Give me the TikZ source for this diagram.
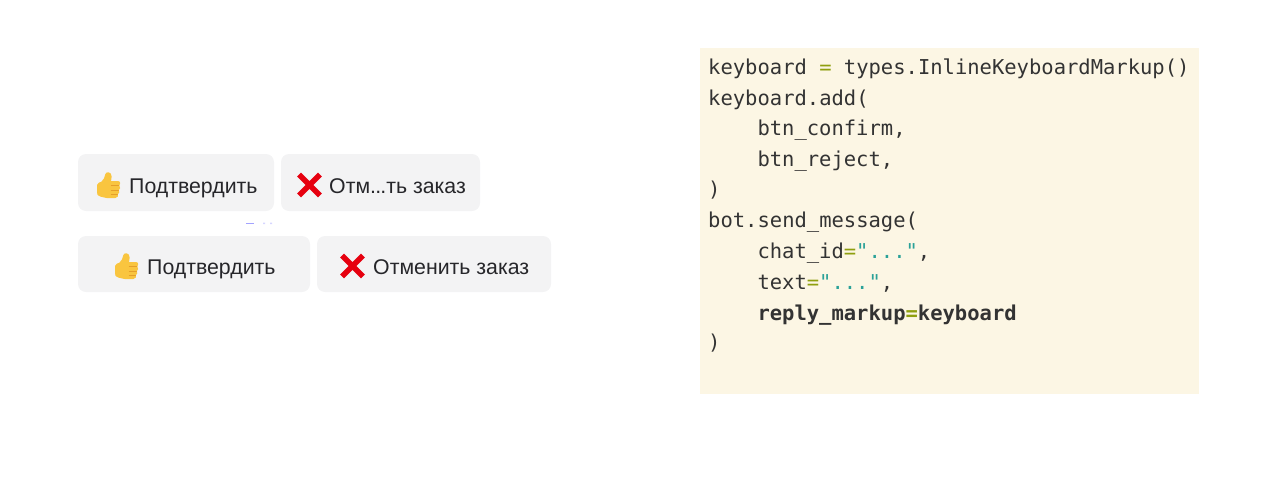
\documentclass[tikz,border=0pt]{standalone}
\usepackage{fontspec}
\setmainfont{Liberation Sans}
\newfontfamily\codefont{DejaVu Sans Mono}
\definecolor{btnfill}{HTML}{F3F3F4}
\definecolor{panelfill}{HTML}{FCF6E4}
\definecolor{inktext}{HTML}{26262A}
\definecolor{inkcode}{HTML}{333333}
\definecolor{opgreen}{HTML}{8F9F10}
\definecolor{strteal}{HTML}{2AA198}
\definecolor{thumbfill}{HTML}{F9C53F}
\definecolor{thumbline}{HTML}{E59F2A}
\definecolor{crossred}{HTML}{E6000F}
\newcommand{\opr}[1]{\textcolor{opgreen}{#1}}
\newcommand{\strlit}[1]{\textcolor{strteal}{#1}}
\tikzset{
  btnbox/.style={fill=btnfill,rounded corners=8pt},
  btnlabel/.style={anchor=base west,inner sep=0pt,text=inktext,font=\fontsize{21.3}{25}\selectfont},
  codeline/.style={anchor=base west,inner sep=0pt,text=inkcode,font=\codefont\fontsize{20.5}{25}\selectfont},
  thumbup/.pic={
    \begin{scope}[xscale=0.92]
    \fill[thumbfill] (-12.5,0) .. controls (-12.5,-2) and (-9.5,-2.5) .. (-7.5,-3.5)
      .. controls (-5,-5.5) and (-4,-8) .. (-3.6,-10.5) .. controls (-3.2,-14) and (3.6,-13.5) .. (3.4,-8.5)
      .. controls (3.2,-7) and (3,-5.5) .. (2.8,-4) -- (10.5,-4)
      .. controls (13.2,-4) and (13.2,0) .. (11.8,0.5) .. controls (13.2,2) and (12.8,4.5) .. (11.3,5)
      .. controls (12.3,6.5) and (11.8,8.5) .. (10.3,9) .. controls (10.8,10.5) and (10.2,13) .. (7.5,13)
      -- (-2,13) .. controls (-5,13) and (-7,11.5) .. (-9,11.5) .. controls (-12,11.5) and (-12.5,9) .. (-12.5,7) -- cycle;
    \draw[thumbline,line width=0.9pt,line cap=round] (3,0.5) -- (11,0.5) (3,5) -- (10.8,5) (3,9) -- (9.6,9);
    \end{scope}
  },
  crossmark/.pic={
    \draw[crossred,line width=5.6pt] (-10.4,-10.4) -- (10.4,10.4) (-10.4,10.4) -- (10.4,-10.4);
  }
}
\begin{document}
\begin{tikzpicture}[line cap=butt,line join=round,x=1pt,y=-1pt]
  \useasboundingbox (0,0) rectangle (1280,485);
  % short row
  \fill[btnbox] (78,154) rectangle (274,211);
  \fill[btnbox] (281,154) rectangle (480,211);
  \pic at (108.5,185) {thumbup};
  \pic at (309.5,185) {crossmark};
  \node[btnlabel] (confirmshort) at (129,193) {Подтвердить};
  \node[btnlabel] (rejectshort) at (329,193) {Отм.\kern-0.8pt.\kern-0.8pt.ть заказ};
  % smudge between the rows
  \fill[blue!60!white,opacity=0.6] (246,222.5) rectangle (254,224);
  \fill[blue!40!white,opacity=0.4] (263,222.5) rectangle (265,224) (270,222.5) rectangle (272,224);
  % full row
  \fill[btnbox] (78,236) rectangle (310,292);
  \fill[btnbox] (317,236) rectangle (551,292);
  \pic at (126.5,266) {thumbup};
  \pic at (352.5,266) {crossmark};
  \node[btnlabel] (confirmfull) at (147,274) {Подтвердить};
  \node[btnlabel] (rejectfull) at (373,274) {Отменить заказ};
  % code panel
  \fill[panelfill] (700,48) rectangle (1199,393.5);
  \node[codeline] (line1) at (708,74.2) {keyboard \opr{=} types.InlineKeyboardMarkup()};
  \node[codeline] (line2) at (708,105.6) {keyboard.add(};
  \node[codeline] (line3) at (757.3,135.6) {btn\_confirm,};
  \node[codeline] (line4) at (757.3,166.8) {btn\_reject,};
  \node[codeline] (line5) at (708,196.6) {)};
  \node[codeline] (line6) at (708,227.2) {bot.send\_message(};
  \node[codeline] (line7) at (757.3,258.6) {chat\_id\opr{=}\strlit{"..."},};
  \node[codeline] (line8) at (757.3,289.2) {text\opr{=}\strlit{"..."},};
  \node[codeline] (line9) at (757.3,320.6) {\textbf{reply\_markup\opr{=}keyboard}};
  \node[codeline] (line10) at (708,349.6) {)};
\end{tikzpicture}
\end{document}
